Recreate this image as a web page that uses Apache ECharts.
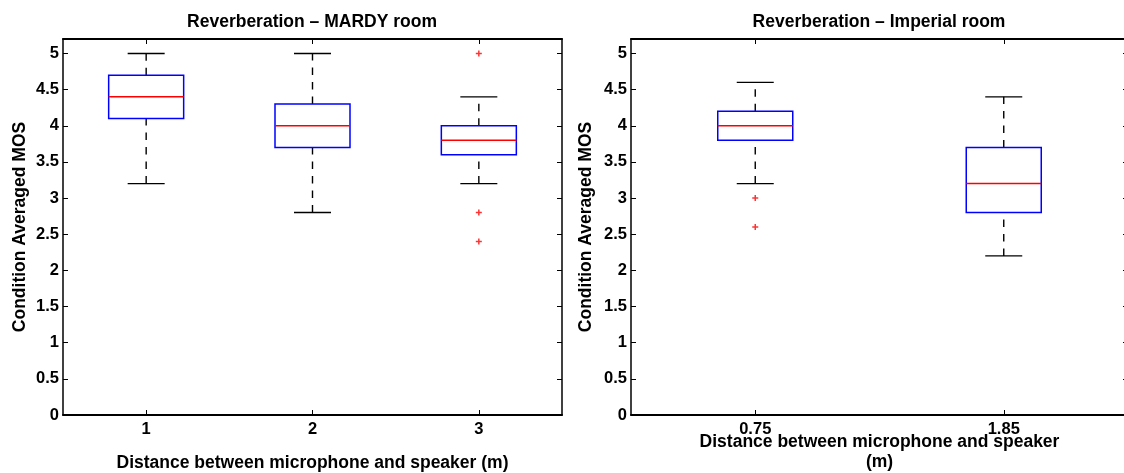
<!DOCTYPE html>
<html><head><meta charset="utf-8">
<script src="https://cdn.jsdelivr.net/npm/echarts@6/dist/echarts.min.js"></script>
<style>html,body{margin:0;padding:0;background:#fff}#chart{width:1124px;height:473px}</style>
</head><body><div id="chart"></div>
<script>
// ---- data ----
const mardyCategories = ['1', '2', '3'];
// each row: [lower whisker, Q1, median, Q3, upper whisker]
const mardyStats = [
  [3.2, 4.1, 4.4, 4.7, 5.0],
  [2.8, 3.7, 4.0, 4.3, 5.0],
  [3.2, 3.6, 3.8, 4.0, 4.4]
];
// [category index, value]
const mardyOutliers = [[2, 5.0], [2, 2.8], [2, 2.4]];

const imperialCategories = ['0.75', '1.85'];
const imperialStats = [
  [3.2, 3.8, 4.0, 4.2, 4.6],
  [2.2, 2.8, 3.2, 3.7, 4.4]
];
const imperialOutliers = [[0, 3.0], [0, 2.6]];

const yMin = 0, yMax = 5.2, yInterval = 0.5;
const titles = ['Reverberation – MARDY room', 'Reverberation – Imperial room'];
const xNames = ['Distance between microphone and speaker (m)', 'Distance between microphone and speaker\n(m)'];
const yName = 'Condition Averaged MOS';

// ---- chart ----
const FONT = '"Liberation Sans", Arial, Helvetica, sans-serif';
const chart = echarts.init(document.getElementById('chart'), null, {renderer: 'canvas'});

function renderBox(params, api) {
  const x = api.value(0);
  const lo = api.coord([x, api.value(1)]);
  const q1 = api.coord([x, api.value(2)]);
  const md = api.coord([x, api.value(3)]);
  const q3 = api.coord([x, api.value(4)]);
  const hi = api.coord([x, api.value(5)]);
  const cx = lo[0];
  const bw = 37.5, cw = 18.5;
  const dashed = {stroke: '#000', lineWidth: 1.4, lineDash: [7.5, 7], fill: null};
  const solid = {stroke: '#000', lineWidth: 1.4, fill: null};
  return {
    type: 'group',
    children: [
      {type: 'line', shape: {x1: cx, y1: q3[1], x2: cx, y2: hi[1]}, style: dashed},
      {type: 'line', shape: {x1: cx, y1: lo[1], x2: cx, y2: q1[1]}, style: dashed},
      {type: 'line', shape: {x1: cx - cw, y1: hi[1], x2: cx + cw, y2: hi[1]}, style: solid},
      {type: 'line', shape: {x1: cx - cw, y1: lo[1], x2: cx + cw, y2: lo[1]}, style: solid},
      {type: 'rect', shape: {x: cx - bw, y: q3[1], width: 2 * bw, height: q1[1] - q3[1]},
        style: {fill: 'none', stroke: '#0000ff', lineWidth: 1.5}},
      {type: 'line', shape: {x1: cx - bw, y1: md[1], x2: cx + bw, y2: md[1]},
        style: {stroke: '#ff0000', lineWidth: 1.5}}
    ]
  };
}

const labelStyle = {color: '#000', fontWeight: 'bold', fontSize: 16.5, fontFamily: FONT};
const nameStyle = {color: '#000', fontWeight: 'bold', fontSize: 17.5, fontFamily: FONT};

function xAxes(gi, cats, name, nameGap) {
  const common = {
    gridIndex: gi, type: 'category', data: cats, boundaryGap: true,
    axisLine: {show: true, onZero: false, lineStyle: {color: '#000', width: 2}},
    axisTick: {show: true, inside: true, length: 5, alignWithLabel: true, interval: 0,
      lineStyle: {color: '#000', width: 1}},
    splitLine: {show: false}
  };
  return [
    Object.assign({}, common, {position: 'bottom',
      axisLabel: Object.assign({margin: 6, interval: 0}, labelStyle),
      name: name, nameLocation: 'middle', nameGap: nameGap, nameMoveOverlap: false,
      nameTextStyle: Object.assign({lineHeight: 20}, nameStyle)}),
    Object.assign({}, common, {position: 'top', axisLabel: {show: false}})
  ];
}

function yAxes(gi, nameGap) {
  const common = {
    gridIndex: gi, type: 'value', min: yMin, max: yMax, interval: yInterval,
    axisLine: {show: true, onZero: false, lineStyle: {color: '#000', width: 1.5}},
    axisTick: {show: true, inside: true, length: 5, lineStyle: {color: '#000', width: 1}},
    splitLine: {show: false}
  };
  return [
    Object.assign({}, common, {position: 'left',
      axisLabel: Object.assign({margin: 4, showMaxLabel: false,
        formatter: v => (Math.abs(v / yInterval - Math.round(v / yInterval)) < 1e-6 ? String(v) : '')}, labelStyle),
      name: yName, nameLocation: 'middle', nameRotate: 90, nameGap: nameGap, nameMoveOverlap: false,
      nameTextStyle: nameStyle}),
    Object.assign({}, common, {position: 'right', axisLabel: {show: false}})
  ];
}

const plusSymbol = 'path://M0,3H8V5H0Z M3,0H5V8H3Z';

const option = {
  backgroundColor: '#fff',
  animation: false,
  title: [
    {text: titles[0], left: 312, top: 13, textAlign: 'center', padding: 0,
      textStyle: nameStyle},
    {text: titles[1], left: 879, top: 13, textAlign: 'center', padding: 0,
      textStyle: nameStyle}
  ],
  grid: [
    {left: 63, top: 39, width: 499, height: 376, containLabel: false, outerBoundsMode: 'none'},
    {left: 631, top: 39, width: 497, height: 376, containLabel: false, outerBoundsMode: 'none'}
  ],
  xAxis: [].concat(xAxes(0, mardyCategories, xNames[0], 38), xAxes(1, imperialCategories, xNames[1], 17)),
  yAxis: [].concat(yAxes(0, 34), yAxes(1, 36)),
  series: [
    {type: 'custom', xAxisIndex: 0, yAxisIndex: 0, renderItem: renderBox,
      encode: {x: 0, y: [1, 2, 3, 4, 5]},
      data: mardyStats.map((s, i) => [i].concat(s)), z: 2},
    {type: 'scatter', xAxisIndex: 0, yAxisIndex: 0, symbol: plusSymbol, symbolSize: 6,
      itemStyle: {color: '#ff0000'}, data: mardyOutliers, z: 3},
    {type: 'custom', xAxisIndex: 2, yAxisIndex: 2, renderItem: renderBox,
      encode: {x: 0, y: [1, 2, 3, 4, 5]},
      data: imperialStats.map((s, i) => [i].concat(s)), z: 2},
    {type: 'scatter', xAxisIndex: 2, yAxisIndex: 2, symbol: plusSymbol, symbolSize: 6,
      itemStyle: {color: '#ff0000'}, data: imperialOutliers, z: 3}
  ]
};
chart.setOption(option);
</script>
</body></html>
